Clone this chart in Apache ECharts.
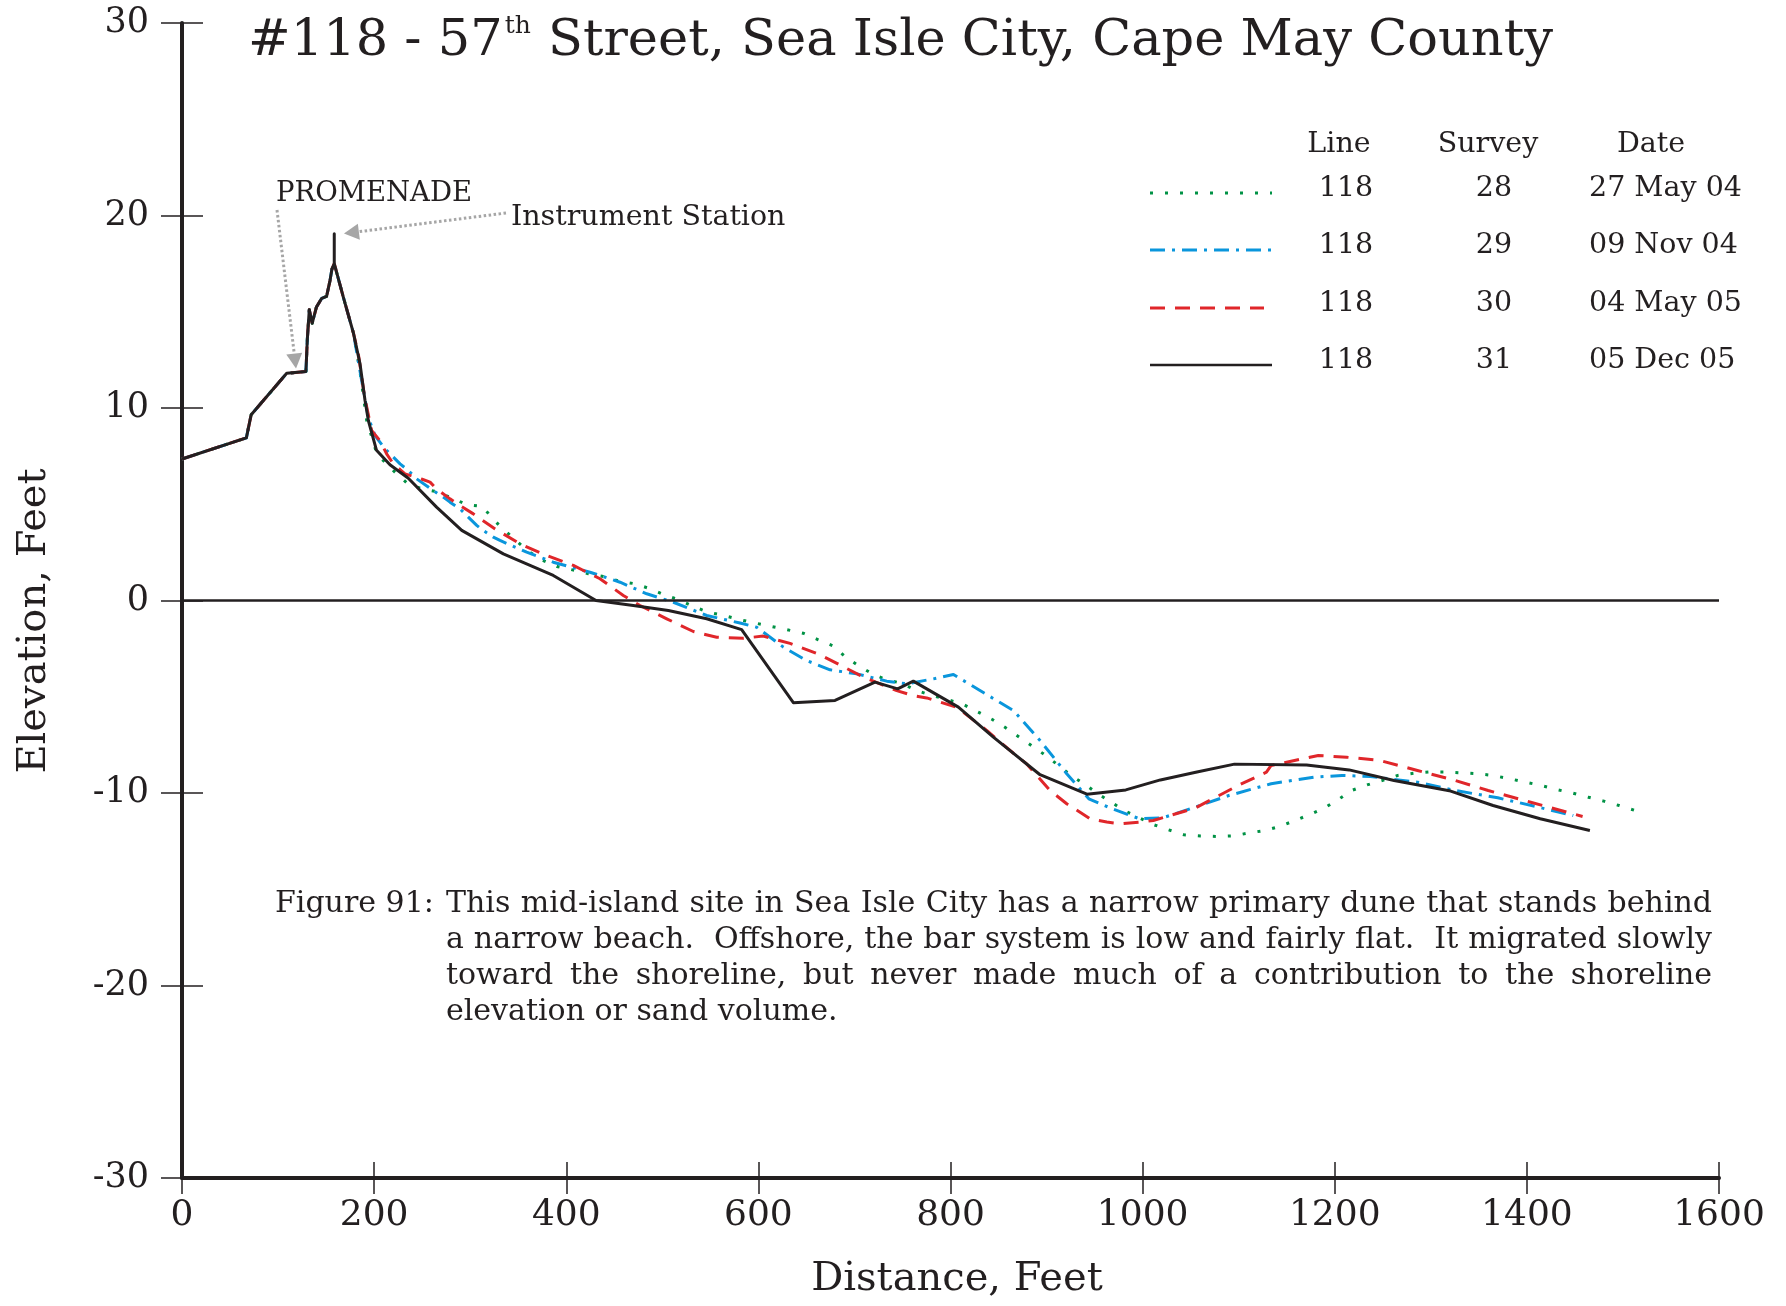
<!DOCTYPE html>
<html><head><meta charset="utf-8">
<script src="https://cdn.jsdelivr.net/npm/echarts@6/dist/echarts.min.js"></script>
<style>html,body{margin:0;padding:0;background:#fff}#c{width:1786px;height:1306px}</style>
</head><body><div id="c"></div>
<script>
// ---- axis ticks ----
const xTickValues = [0, 200, 400, 600, 800, 1000, 1200, 1400, 1600];
const yTickValues = [-30, -20, -10, 0, 10, 20, 30];

// ---- legend table ----
const seriesNames = ['Survey 28', 'Survey 29', 'Survey 30', 'Survey 31'];
const lineNumbers = ['118', '118', '118', '118'];
const surveyNumbers = ['28', '29', '30', '31'];
const surveyDates = ['27 May 04', '09 Nov 04', '04 May 05', '05 Dec 05'];

// ---- profile data [distance ft, elevation ft] ----
const duneCommon = [[0,7.35],[67,8.45],[72,9.65],[109,11.8],[129,11.9],[130.5,13.6],[132.5,15.1],[135.5,14.4],[140,15.25],[145.5,15.7],[150.5,15.8],[154,16.6],[156,17.2],[158.5,17.5]];

const survey31Tail = [[158.5,19.05],[158.5,17.5],[168,15.75],[178.4,13.9],[185.3,12.3],[190.5,10.4],[194,9.35],[202.5,7.8],[216.5,7.05],[235.6,6.35],[265,4.85],[291.2,3.64],[334.5,2.42],[386.5,1.30],[431,0],[469.8,-0.26],[506.3,-0.52],[546.2,-0.95],[582.6,-1.51],[636.4,-5.31],[679.8,-5.19],[721.4,-4.24],[745,-4.59],[761.3,-4.19],[808.2,-5.54],[844.6,-7.10],[893.2,-9.05],[942,-10.06],[982.5,-9.84],[1018.5,-9.32],[1055.3,-8.92],[1095.6,-8.50],[1170.7,-8.55],[1215,-8.80],[1261.7,-9.35],[1320.7,-9.90],[1364.8,-10.65],[1413.9,-11.34],[1465.6,-11.95]];

const survey30Tail = [[168,15.75],[178.4,13.9],[183.6,12.8],[190,10.6],[197.4,8.83],[206,8.31],[213,7.62],[220,7.10],[232.1,6.58],[250,6.3],[258.2,6.15],[265,5.80],[279,5.28],[287.6,4.99],[303.3,4.50],[312,4.19],[326,3.72],[334.5,3.46],[351.9,2.94],[379.6,2.34],[407.4,1.82],[435.1,1.13],[459.4,0.26],[476.8,-0.26],[504.6,-0.95],[532.3,-1.61],[556.6,-1.91],[584.3,-1.96],[605,-1.85],[633,-2.23],[664.2,-2.82],[685,-3.35],[709.3,-3.98],[744,-4.68],[761.3,-4.94],[775.2,-5.06],[806.4,-5.54],[837.7,-6.75],[862,-7.79],[879.3,-8.49],[903.6,-9.87],[921,-10.56],[945.4,-11.34],[962.7,-11.51],[976.6,-11.60],[997.3,-11.51],[1011.1,-11.43],[1055.3,-10.77],[1099.4,-9.61],[1128.9,-8.92],[1133.8,-8.57],[1182.9,-8.05],[1212.4,-8.14],[1246.8,-8.31],[1286.1,-8.83],[1325.4,-9.35],[1359.7,-9.87],[1404,-10.48],[1458,-11.22]];

const survey29Tail = [[168,15.75],[178.4,13.9],[187,11.43],[194,9.5],[200.9,8.57],[211.3,7.88],[220,7.45],[227,7.10],[235.6,6.75],[244.3,6.32],[261.6,5.71],[272,5.37],[279,5.11],[289.4,4.76],[298,4.33],[306.8,3.90],[313.6,3.64],[324.1,3.29],[331,3.12],[358.8,2.51],[386.5,1.99],[424.7,1.47],[456,0.95],[483.8,0.35],[511.5,-0.09],[546.2,-0.78],[580.9,-1.17],[598.3,-1.39],[626,-2.42],[650.3,-3.12],[674.6,-3.60],[702.4,-3.81],[733.6,-4.19],[754.4,-4.33],[782.2,-4.07],[803,-3.84],[830.7,-4.68],[865.4,-5.71],[893.2,-7.27],[921,-9.0],[944,-10.3],[966.5,-10.78],[996.8,-11.34],[1020.9,-11.29],[1040.6,-10.97],[1089.8,-10.13],[1133.8,-9.52],[1178,-9.18],[1207.5,-9.09],[1237,-9.14],[1286.1,-9.44],[1325.4,-9.87],[1369.7,-10.25],[1409,-10.70],[1448.3,-11.17]];

const survey28Tail = [[168,15.75],[178.4,13.9],[185,12.0],[192.3,9.35],[203,7.6],[221.7,6.66],[233.9,6.12],[249.5,5.80],[265.5,5.65],[281,5.32],[296.4,4.98],[313,4.88],[323.5,4.24],[335.2,3.67],[347.7,3.12],[360.5,2.56],[374.5,2.11],[390.1,1.77],[406.4,1.59],[423,1.39],[438.6,1.25],[455.3,1.00],[471.6,0.87],[487.2,0.61],[501.1,0.31],[517.7,0.03],[532.3,-0.31],[547.9,-0.61],[564.2,-0.78],[580.9,-1.0],[597.5,-1.18],[613.8,-1.35],[630.1,-1.52],[646.7,-1.70],[662.4,-2.04],[677.4,-2.35],[690.2,-2.91],[704,-3.38],[718.6,-3.81],[733.6,-4.12],[749.2,-4.30],[764.8,-4.68],[781.4,-4.94],[797.7,-5.16],[813.3,-5.40],[828.9,-5.80],[843.5,-6.18],[857.4,-6.61],[871.6,-7.10],[885.5,-7.58],[899.1,-8.05],[912.5,-8.57],[925.5,-9.09],[939.5,-9.54],[953.3,-10.04],[967.5,-10.48],[981,-10.92],[1011.1,-11.64],[1026.8,-11.91],[1043,-12.17],[1060.3,-12.23],[1077.5,-12.26],[1093.6,-12.23],[1110.4,-12.08],[1126.6,-11.95],[1142.7,-11.74],[1158.4,-11.43],[1174.1,-11.12],[1189.4,-10.77],[1203.7,-10.34],[1217.4,-9.87],[1233.6,-9.58],[1249.3,-9.35],[1265.5,-9.09],[1282.7,-8.97],[1298.5,-8.91],[1315.7,-8.91],[1332,-8.95],[1349,-9.0],[1365,-9.09],[1382,-9.26],[1398.7,-9.44],[1415,-9.61],[1431,-9.82],[1447.5,-10.0],[1464,-10.22],[1480,-10.42],[1496,-10.65],[1513,-10.91]];

const survey28 = duneCommon.concat(survey28Tail);
const survey29 = duneCommon.concat(survey29Tail);
const survey30 = duneCommon.concat(survey30Tail);
const survey31 = duneCommon.concat(survey31Tail);

// ---- texts ----
const titleMain = '#118 - 57';
const titleSup = 'th';
const titleRest = ' Street, Sea Isle City, Cape May County';
const captionLabel = 'Figure 91:';
const captionLines = [
  'This mid-island site in Sea Isle City has a narrow primary dune that stands behind',
  'a narrow beach.  Offshore, the bar system is low and fairly flat.  It migrated slowly',
  'toward the shoreline, but never made much of a contribution to the shoreline',
  'elevation or sand volume.'
];

// ---- styles ----
const FONT = "'DejaVu Serif'";
const INK = '#231f20';
const styles = [
  {color: '#009245', width: 3, dash: [3, 12], cap: 'butt'},
  {color: '#0a96dc', width: 3, dash: [15, 7, 3, 7], cap: 'butt'},
  {color: '#e0262a', width: 3, dash: [15, 10], cap: 'butt'},
  {color: INK, width: 3, dash: 'solid', cap: 'butt'}
];
const seriesData = [survey28, survey29, survey30, survey31];

const chart = echarts.init(document.getElementById('c'), null, {renderer: 'canvas'});

const yAxisBase = {type: 'value', min: -30, max: 30, interval: 10, position: 'left', splitLine: {show: false}};
const xAxisBase = {type: 'value', min: 0, max: 1600, interval: 200, position: 'bottom', splitLine: {show: false}};

chart.setOption({
  animation: false,
  backgroundColor: '#fff',
  grid: {left: 182, right: 67, top: 23, bottom: 128},
  xAxis: [
    Object.assign({}, xAxisBase, {
      axisLine: {show: true, onZero: false, lineStyle: {color: INK, width: 4}},
      axisTick: {show: true, inside: false, length: 16, lineStyle: {color: INK, width: 1.5}},
      axisLabel: {show: true, margin: 20, color: INK, fontFamily: FONT, fontSize: 36,
        formatter: v => String(v)}
    }),
    Object.assign({}, xAxisBase, {
      axisLine: {show: false, onZero: false},
      axisTick: {show: true, inside: true, length: 16, lineStyle: {color: INK, width: 1.5}},
      axisLabel: {show: false}
    })
  ],
  yAxis: [
    Object.assign({}, yAxisBase, {
      axisLine: {show: true, onZero: false, lineStyle: {color: INK, width: 4}},
      axisTick: {show: true, inside: false, length: 21, lineStyle: {color: INK, width: 1.5}},
      axisLabel: {show: true, margin: 33, color: INK, fontFamily: FONT, fontSize: 35,
        formatter: v => String(v)}
    }),
    Object.assign({}, yAxisBase, {
      axisLine: {show: false, onZero: false},
      axisTick: {show: true, inside: true, length: 21, lineStyle: {color: INK, width: 1.5}},
      axisLabel: {show: false}
    })
  ],
  series: seriesData.map((d, i) => ({
    name: seriesNames[i],
    type: 'line',
    data: d,
    xAxisIndex: 0, yAxisIndex: 0,
    showSymbol: false, symbol: 'none',
    silent: true,
    z: 3 + i,
    lineStyle: {color: styles[i].color, width: styles[i].width, type: styles[i].dash, cap: styles[i].cap, join: 'round'},
    markLine: i === 3 ? {
      silent: true, symbol: ['none', 'none'], label: {show: false},
      lineStyle: {color: INK, width: 2.5, type: 'solid'},
      data: [{yAxis: 0}]
    } : undefined
  }))
});

// ---------- decorations ----------
const ctx = document.createElement('canvas').getContext('2d');
function measure(text, size) { ctx.font = size + 'px ' + FONT; return ctx.measureText(text).width; }
function txt(text, x, y, size, opts) {
  opts = opts || {};
  return {
    type: 'text', x: x, y: y, rotation: opts.rotation || 0, silent: true, z: 100,
    style: {
      text: text, font: size + 'px ' + FONT, fill: opts.fill || INK,
      align: opts.align || 'left', verticalAlign: opts.va || 'middle',
      textAlign: opts.align || 'left', textVerticalAlign: opts.va || 'middle'
    }
  };
}
const g = [];

// Title
const TS = 51, TX = 248, TY = 42;
const w1 = measure(titleMain, TS);
g.push(txt(titleMain, TX, TY, TS));
const supSize = 25;
g.push(txt(titleSup, TX + w1 + 2, TY - 16, supSize));
const wSup = measure(titleSup, supSize);
g.push(txt(titleRest, TX + w1 + 3 + wSup, TY, TS));

// Axis titles
g.push(txt('Distance, Feet', 957, 1280, 40, {align: 'center'}));
g.push(txt('Elevation, Feet', 35, 621, 40, {align: 'center', rotation: Math.PI / 2}));

// Legend table
const LS = 28.5;
const headX = [1339, 1488, 1651];
['Line', 'Survey', 'Date'].forEach((h, i) => g.push(txt(h, headX[i], 145, LS, {align: 'center'})));
const rowY = [189, 246, 304, 361];
rowY.forEach((y, i) => {
  g.push({type: 'line', silent: true, z: 100,
    shape: {x1: 1150, y1: y + 4, x2: i === 2 ? 1264 : 1272, y2: y + 4},
    style: {stroke: styles[i].color, lineWidth: i === 3 ? 2.5 : 3,
      lineDash: styles[i].dash === 'solid' ? null : styles[i].dash, lineCap: 'butt'}});
  g.push(txt(lineNumbers[i], 1346, y, LS, {align: 'center'}));
  g.push(txt(surveyNumbers[i], 1494, y, LS, {align: 'center'}));
  g.push(txt(surveyDates[i], 1589, y, LS));
});

// Annotations with arrows
const GRAY = '#a6a6a6';
function arrow(tail, tip) {
  const dx = tip[0] - tail[0], dy = tip[1] - tail[1];
  const L = Math.sqrt(dx * dx + dy * dy), ux = dx / L, uy = dy / L;
  const hl = 15, hw = 8;
  const bx = tip[0] - ux * hl, by = tip[1] - uy * hl;
  g.push({type: 'line', silent: true, z: 90,
    shape: {x1: tail[0], y1: tail[1], x2: bx, y2: by},
    style: {stroke: GRAY, lineWidth: 3, lineDash: [2.5, 2.5]}});
  g.push({type: 'polygon', silent: true, z: 90,
    shape: {points: [[tip[0], tip[1]], [bx - uy * hw, by + ux * hw], [bx + uy * hw, by - ux * hw]]},
    style: {fill: GRAY}});
}
const promTip = chart.convertToPixel({xAxisIndex: 0, yAxisIndex: 0}, [118.7, 12.05]);
const instTip = chart.convertToPixel({xAxisIndex: 0, yAxisIndex: 0}, [168.6, 19.06]);
arrow([277, 210], promTip);
arrow([506, 213], instTip);
g.push(txt('PROMENADE', 276, 194, 27.5));
g.push(txt('Instrument Station', 511, 218, 28.5));

// Caption (justified)
const CS = 30, capLeft = 446, capRight = 1712, capY0 = 904, capLH = 36;
g.push(txt(captionLabel, 275, capY0, CS));
captionLines.forEach((line, i) => {
  const y = capY0 + i * capLH;
  if (i < captionLines.length - 1) {
    const words = line.split(' ');
    const ws = words.map(w => measure(w, CS));
    const total = ws.reduce((a, b) => a + b, 0);
    const gap = (capRight - capLeft - total) / (words.length - 1);
    let x = capLeft;
    words.forEach((w, j) => { if (w) g.push(txt(w, x, y, CS)); x += ws[j] + gap; });
  } else {
    g.push(txt(line, capLeft, y, CS));
  }
});

chart.setOption({graphic: {elements: g}});
</script>
</body></html>
